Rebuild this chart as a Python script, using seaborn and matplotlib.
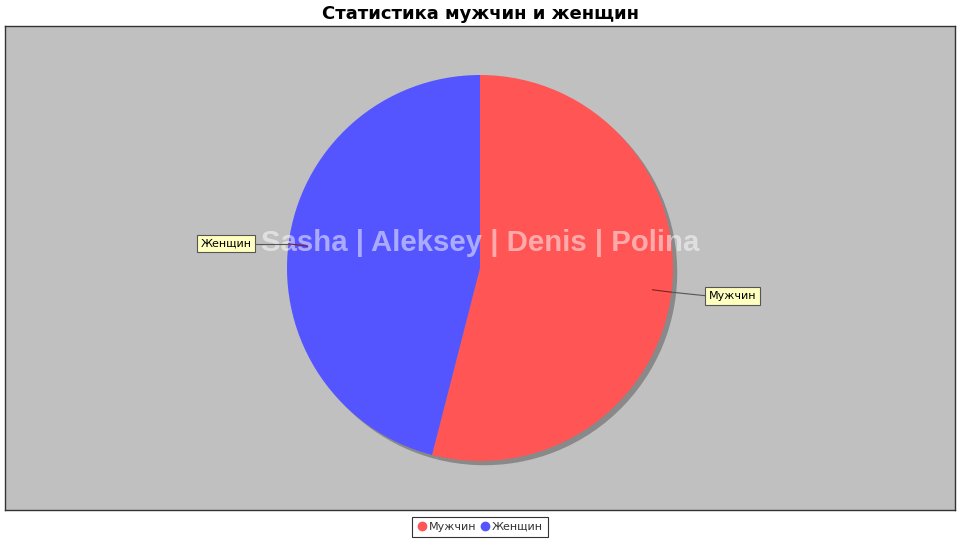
import matplotlib
matplotlib.use("Agg")
import matplotlib.pyplot as plt
import seaborn as sns
import numpy as np
from matplotlib.lines import Line2D

categories = ["Мужчин", "Женщин"]
values = [54, 46]
colors = ["#FF5555", "#5555FF"]
title = "Статистика мужчин и женщин"
watermark = "Sasha | Aleksey | Denis | Polina"

sns.set_theme(style="white")
plt.rcParams["font.family"] = ["DejaVu Sans"]

fig = plt.figure(figsize=(9.6, 5.4), dpi=100)
fig.patch.set_facecolor("white")
L, R, T, B = 5, 955, 26, 510
ax = fig.add_axes([L / 960, 1 - B / 540, (R - L) / 960, (B - T) / 540])
ax.set_facecolor("#C0C0C0")

radius_px = 193.0
cx_px, cy_px = 480.0, 268.0

# shadow
ax.pie(values, colors=["#808080"] * len(values), startangle=90, counterclock=False,
       center=(0.022, -0.022), radius=1.0, frame=True,
       wedgeprops=dict(linewidth=0, alpha=0.85))
wedges, _ = ax.pie(values, colors=colors, startangle=90, counterclock=False,
                   radius=1.0, frame=True, wedgeprops=dict(linewidth=0))

xc = (cx_px - L) / radius_px
xr = (R - cx_px) / radius_px
yt = (cy_px - T) / radius_px
yb = (B - cy_px) / radius_px
ax.set_xlim(-xc, xr)
ax.set_ylim(-yb, yt)
ax.set_aspect("auto")
ax.set_xticks([])
ax.set_yticks([])
for s in ax.spines.values():
    s.set_color("#333333")
    s.set_linewidth(1.0)

ax.text(0, 0.13, watermark, ha="center", va="center", fontsize=21.2,
        fontweight="bold", family="Liberation Sans", color="white", alpha=0.5, zorder=5)

for wdg, lab in zip(wedges, categories):
    ang = np.deg2rad((wdg.theta1 + wdg.theta2) / 2)
    c, s = np.cos(ang), np.sin(ang)
    sign = 1 if c >= 0 else -1
    p0 = (0.9 * c, 0.9 * s)
    p1 = (1.0 * c, 1.0 * s)
    tx = sign * 1.185
    ty = s * 1.0 - 0.02 * (1 if s < 0 else 0)
    ax.plot([p0[0], p1[0]], [p0[1], p1[1]], color="#802020", lw=0.8, zorder=6)
    ax.plot([p1[0], tx], [p1[1], ty], color="#555555", lw=0.8, zorder=6)
    ax.text(tx, ty, lab, ha="left" if sign > 0 else "right", va="center",
            fontsize=8, color="black", zorder=7,
            bbox=dict(boxstyle="square,pad=0.32", fc="#FFFFC0", ec="#555555", lw=0.8))

fig.text(0.5, 1 - 14 / 540, title, ha="center", va="center", fontsize=13,
         fontweight="bold", color="black")

handles = [Line2D([0], [0], marker="o", linestyle="", markersize=6,
                  markerfacecolor=c, markeredgecolor=c) for c in colors]
leg = fig.legend(handles, categories, loc="center", bbox_to_anchor=(0.5, 1 - 527 / 540),
                 ncol=2, frameon=True, fancybox=False, fontsize=8,
                 handletextpad=0.1, columnspacing=0.3, borderpad=0.45,
                 handlelength=1.0, borderaxespad=0)
leg.get_frame().set_edgecolor("black")
leg.get_frame().set_linewidth(0.8)
for t in leg.get_texts():
    t.set_color("#333333")

fig.savefig("out.png", dpi=100)
